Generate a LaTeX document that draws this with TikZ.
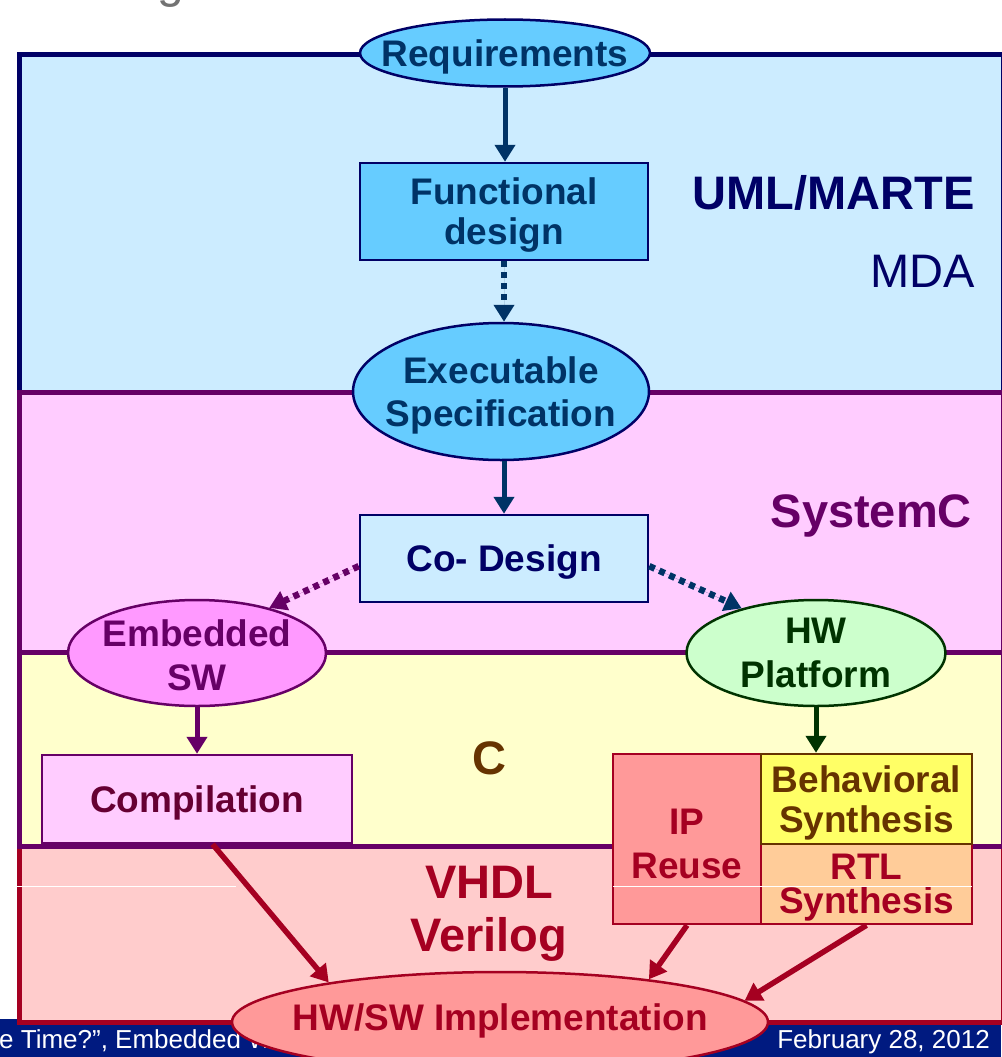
\documentclass[tikz,border=0pt]{standalone}
\usepackage{fontspec}
\setmainfont{Liberation Sans}
\usetikzlibrary{shapes.geometric,arrows.meta}

\definecolor{navy}{HTML}{000066}
\definecolor{teal}{HTML}{003366}
\definecolor{purp}{HTML}{660066}
\definecolor{wine}{HTML}{A50021}
\definecolor{maroon}{HTML}{660033}
\definecolor{brown}{HTML}{663300}
\definecolor{dgreen}{HTML}{003300}
\definecolor{pblue}{HTML}{CCECFF}
\definecolor{ppink}{HTML}{FFCCFF}
\definecolor{pyellow}{HTML}{FFFFCC}
\definecolor{pred}{HTML}{FFCCCC}
\definecolor{sky}{HTML}{66CCFF}
\definecolor{orchid}{HTML}{FF99FF}
\definecolor{mint}{HTML}{CCFFCC}
\definecolor{salmon}{HTML}{FF9999}
\definecolor{lemon}{HTML}{FFFF66}
\definecolor{peach}{HTML}{FFCC99}
\definecolor{footer}{HTML}{001A80}

\begin{document}
\begin{tikzpicture}[x=1pt,y=-1pt,
  panel/.style={line width=5pt},
  lbl/.style={font=\fontsize{37}{44}\selectfont\bfseries, align=center,
               inner sep=0pt, text depth=0pt},
  tight/.style={font=\fontsize{37}{40}\selectfont\bfseries},
  tighter/.style={font=\fontsize{37}{34}\selectfont\bfseries},
  big/.style={font=\fontsize{47}{54}\selectfont\bfseries, inner sep=0pt},
  blk/.style={rectangle, line width=2.5pt, lbl},
  ell/.style={ellipse, line width=2.5pt, inner sep=0pt},
  arr/.style={line width=5pt, -{Triangle[length=17pt,width=20pt]}},
  dotarr/.style={arr, line width=6.5pt, dash pattern=on 6pt off 5pt},
  redarr/.style={arr, line width=5.5pt, draw=wine, fill=wine},
  foot/.style={font=\fontsize{26}{30}\selectfont, text=white, inner sep=0pt},
]
\useasboundingbox (0,0) rectangle (1001,1057);

% tail of the slide title
\node[anchor=base west, inner sep=0pt, text=black!55,
      font=\fontsize{48}{48}\selectfont] (title) at (157,-2) {g};

% footer bar
\fill[footer] (0,1019) rectangle (1001,1057);

% layer panels
\draw[panel, draw=navy, fill=pblue]   (19.5,54.5) rectangle (1003,392);
\draw[panel, draw=wine, fill=pred]    (19.5,846)  rectangle (1003,1022);
\draw[panel, draw=purp, fill=ppink]   (19.5,392)  rectangle (1003,652);
\draw[panel, draw=purp, fill=pyellow] (19.5,652)  rectangle (1003,846);

% footer texts
\node[foot, anchor=base west] (fl) at (-1,1048) {e Time?”, Embedded Wo};
\node[foot, anchor=base east] (fr) at (990,1048) {February 28, 2012};

% layer names
\node[big, text=navy, anchor=base east] (uml) at (975,209) {UML/MARTE};
\node[big, font=\fontsize{47}{54}\selectfont, text=navy, anchor=base east] (mda) at (975,287) {MDA};
\node[big, text=purp, anchor=base east] (sysc) at (972,527) {SystemC};
\node[big, text=brown, anchor=base] (clang) at (489,774) {C};
\node[big, text=wine, anchor=base] (vhdl) at (489,898) {VHDL};
\node[big, text=wine, anchor=base] (veri) at (489,951) {Verilog};

% thin white rule across the lower layer
\draw[white, line width=1pt] (0,886.5) -- (236,886.5);

% flow nodes
\node[ell, draw=navy, fill=sky, minimum width=290pt, minimum height=67pt,
      label={[lbl, text=teal]center:Requirements}]
  (req) at (505,53) {};
\node[blk, draw=navy, fill=sky, text=teal, tight, minimum width=288pt, minimum height=97pt]
  (func) at (504,211.5) {Functional\\design};
\node[ell, draw=navy, fill=sky, minimum width=296pt, minimum height=137pt,
      label={[lbl, text=teal, font=\fontsize{37}{43}\selectfont\bfseries]center:{Executable\\Specification}}]
  (exec) at (501,391.5) {};
\node[blk, draw=navy, fill=pblue, text=navy, minimum width=288pt, minimum height=87pt]
  (cod) at (504,558.5) {Co- Design};
\node[ell, draw=purp, fill=orchid, minimum width=258pt, minimum height=106pt,
      label={[lbl, text=purp, yshift=-2pt]center:{Embedded\\SW}}]
  (emb) at (197,653) {};
\node[ell, draw=dgreen, fill=mint, minimum width=259pt, minimum height=106pt,
      label={[lbl, text=dgreen]center:{HW\\Platform}}]
  (hwp) at (816,653) {};
\node[blk, draw=purp, fill=ppink, text=maroon, minimum width=310pt, minimum height=88pt]
  (comp) at (197,799) {Compilation};
\node[blk, draw=wine, fill=salmon, minimum width=148pt, minimum height=170pt]
  (ip) at (687,839) {};
\node[lbl, text=wine] (iptext) at (687,844) {IP\\Reuse};
\node[blk, draw=wine, fill=peach, text=wine, tighter, minimum width=211pt, minimum height=80pt]
  (rtl) at (866.5,884) {RTL\\Synthesis};
\node[blk, draw=brown, fill=lemon, text=brown, tight, minimum width=211pt, minimum height=90pt]
  (beh) at (866.5,799) {Behavioral\\Synthesis};

% white rule continues over the synthesis blocks
\draw[white, line width=1pt] (ip.west |- 0,886.5) ++(1.5,0) -- ([xshift=-1.5pt]rtl.east |- 0,886.5);

% connectors above the implementation node
\draw[arr, draw=teal, fill=teal] (req.south) -- (req.south |- func.north);
\draw[dotarr, draw=teal, fill=teal] (func.south) -- (func.south |- exec.north);
\draw[arr, draw=teal, fill=teal] (exec.south -| func.south) -- (cod.north);
\draw[dotarr, draw=purp, fill=purp] (cod.183) -- (emb.32);
\draw[dotarr, draw=teal, fill=teal] (cod.357) -- (hwp.149);
\draw[arr, draw=purp, fill=purp] (emb.south) -- (comp.north);
\draw[arr, draw=dgreen, fill=dgreen] (hwp.south) -- (hwp.south |- beh.north);

% implementation node and its incoming arrows
\node[ell, draw=wine, fill=salmon, minimum width=536pt, minimum height=100pt,
      label={[lbl, text=wine, yshift=5pt]center:{HW/SW Implementation}}]
  (impl) at (500,1022) {};
\draw[redarr] (comp.289) -- (impl.167);
\draw[redarr] (ip.south) -- (impl.16);
\draw[redarr] (rtl.south) -- (impl.5);
\end{tikzpicture}
\end{document}
